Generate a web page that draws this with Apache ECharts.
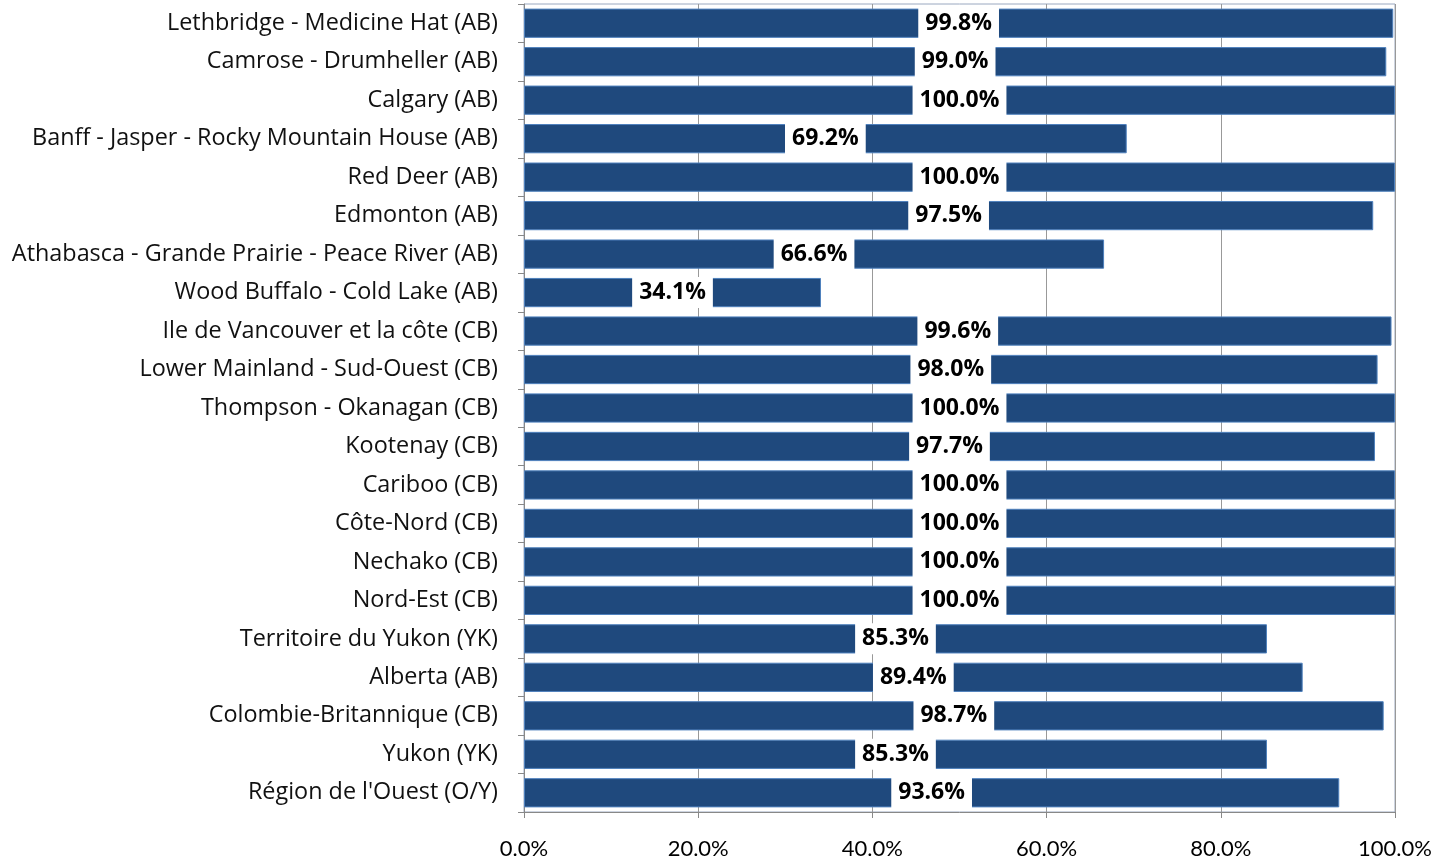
<!DOCTYPE html>
<html>
<head>
<meta charset="utf-8">
<script src="https://cdn.jsdelivr.net/npm/echarts@6/dist/echarts.min.js"></script>
<style>
  html, body { margin: 0; padding: 0; background: #fff; }
  #main { width: 1439px; height: 862px; }
</style>
</head>
<body>
<div id="main"></div>
<script>
const regions = [
  "Lethbridge - Medicine Hat (AB)",
  "Camrose - Drumheller (AB)",
  "Calgary (AB)",
  "Banff - Jasper - Rocky Mountain House (AB)",
  "Red Deer (AB)",
  "Edmonton (AB)",
  "Athabasca - Grande Prairie - Peace River (AB)",
  "Wood Buffalo - Cold Lake (AB)",
  "Ile de Vancouver et la côte (CB)",
  "Lower Mainland - Sud-Ouest (CB)",
  "Thompson - Okanagan (CB)",
  "Kootenay (CB)",
  "Cariboo (CB)",
  "Côte-Nord (CB)",
  "Nechako (CB)",
  "Nord-Est (CB)",
  "Territoire du Yukon (YK)",
  "Alberta (AB)",
  "Colombie-Britannique (CB)",
  "Yukon (YK)",
  "Région de l'Ouest (O/Y)"
];
const shares = [99.8, 99.0, 100.0, 69.2, 100.0, 97.5, 66.6, 34.1, 99.6, 98.0, 100.0,
  97.7, 100.0, 100.0, 100.0, 100.0, 85.3, 89.4, 98.7, 85.3, 93.6];

const chart = echarts.init(document.getElementById('main'));
const font = '"Open Sans", Lato, sans-serif';

chart.setOption({
  animation: false,
  grid: {
    left: 524, right: 44, top: 4, bottom: 50,
    show: true, borderColor: '#9aa8c0', borderWidth: 1, backgroundColor: 'transparent'
  },
  xAxis: {
    type: 'value', min: 0, max: 100, interval: 20,
    axisLine: { show: true, lineStyle: { color: '#888' } },
    axisTick: { show: true, length: 6, lineStyle: { color: '#888' } },
    splitLine: { show: true, lineStyle: { color: '#999', width: 1 } },
    axisLabel: {
      formatter: v => v.toFixed(1) + '%',
      color: '#000', fontSize: 22, fontFamily: 'Lato, sans-serif', margin: 26
    }
  },
  yAxis: {
    type: 'category', data: regions, inverse: true,
    axisLine: { show: true, lineStyle: { color: '#888' } },
    axisTick: { show: true, length: 6, lineStyle: { color: '#888' } },
    axisLabel: { color: '#111', fontSize: 23.4, fontFamily: font, margin: 26 }
  },
  series: [{
    type: 'bar', data: shares, barCategoryGap: '24%',
    itemStyle: { color: '#1f497d', borderColor: '#4f81bd', borderWidth: 1 },
    label: {
      show: true, position: 'inside',
      formatter: p => p.value.toFixed(1) + '%',
      color: '#000', fontWeight: 'bold', fontSize: 23, fontFamily: font,
      lineHeight: 24, backgroundColor: '#fff', padding: [5, 7, 2, 7]
    }
  }]
});
</script>
</body>
</html>
